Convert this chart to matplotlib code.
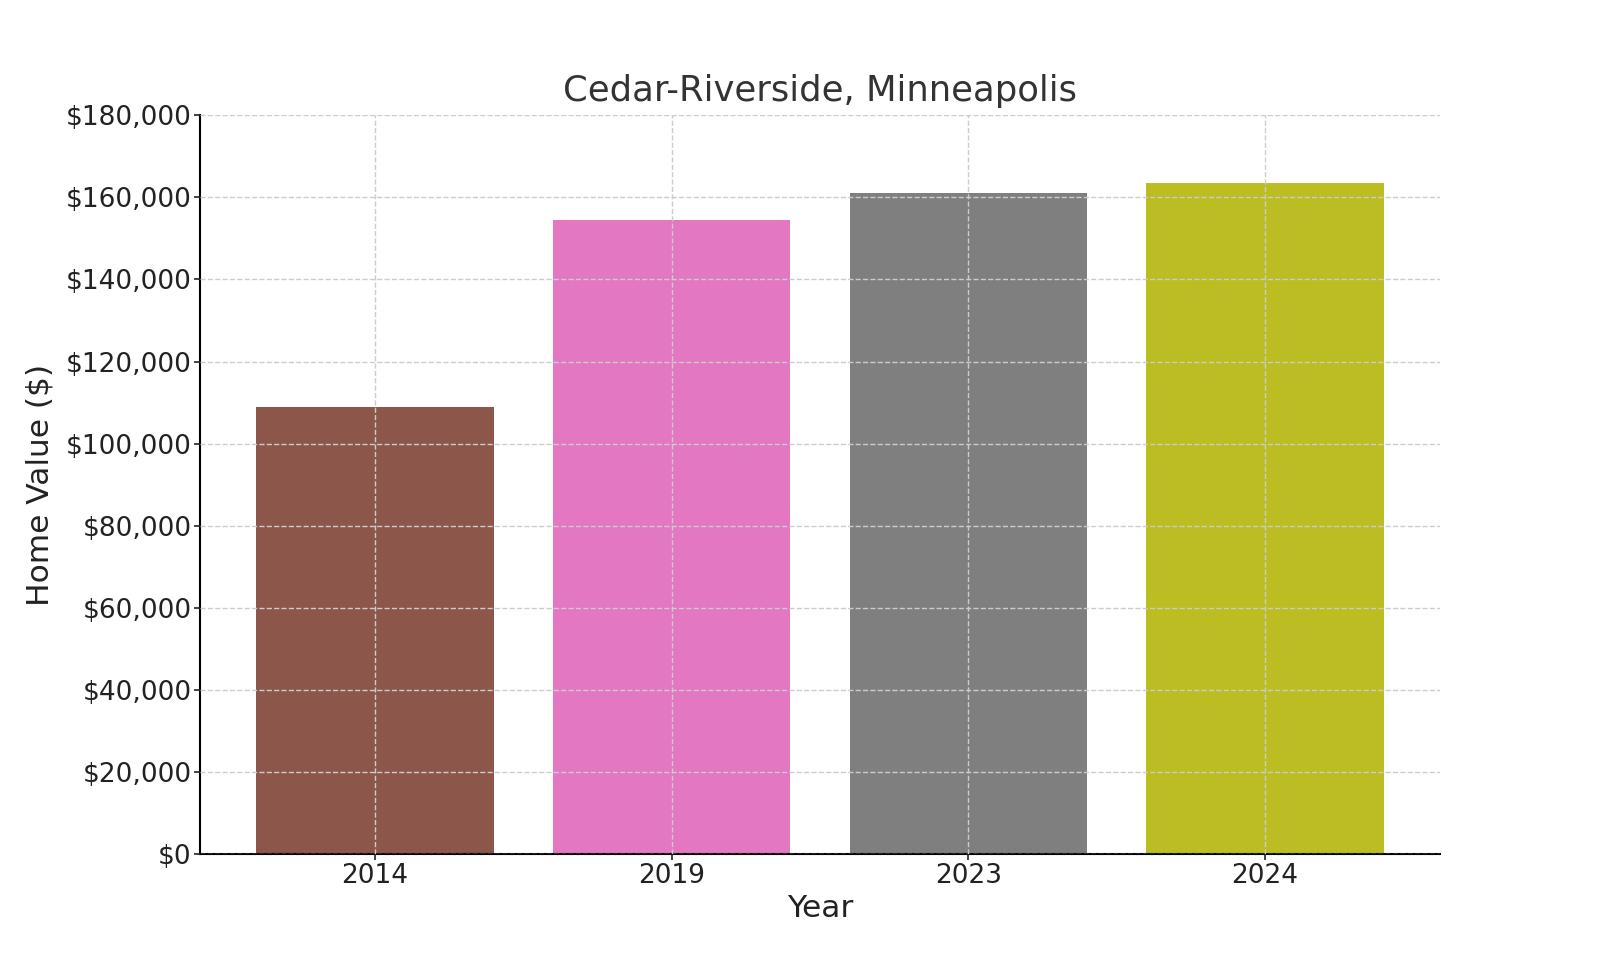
import matplotlib
matplotlib.use("Agg")
import matplotlib.pyplot as plt
from matplotlib.ticker import FuncFormatter

years = ["2014", "2019", "2023", "2024"]
values = [108900, 154500, 161000, 163500]
colors = ["#8c564b", "#e377c2", "#7f7f7f", "#bcbd22"]

fig = plt.figure(figsize=(16, 9.6), dpi=100)
ax = fig.add_axes([0.125, 0.11, 0.775, 0.77])
ax.bar(years, values, color=colors, zorder=2)
ax.set_ylim(0, 180000)
ax.set_yticks(range(0, 180001, 20000))
ax.yaxis.set_major_formatter(FuncFormatter(lambda v, p: f"${v:,.0f}"))
ax.grid(True, linestyle="--", color="#cccccc", linewidth=1, zorder=3)
ax.set_axisbelow(False)
for s in ["top", "right"]:
    ax.spines[s].set_visible(False)
ax.spines["left"].set_linewidth(1.5)
ax.spines["bottom"].set_linewidth(1.5)
ax.tick_params(labelsize=19, colors="#222222", length=4, width=1.2, pad=2)
ax.set_title("Cedar-Riverside, Minneapolis", fontsize=25.5, color="#333333", pad=10)
ax.set_xlabel("Year", fontsize=22.5, color="#222222", labelpad=4)
ax.set_ylabel("Home Value ($)", fontsize=22.5, color="#222222", labelpad=8)
fig.savefig("out.png", dpi=100)
